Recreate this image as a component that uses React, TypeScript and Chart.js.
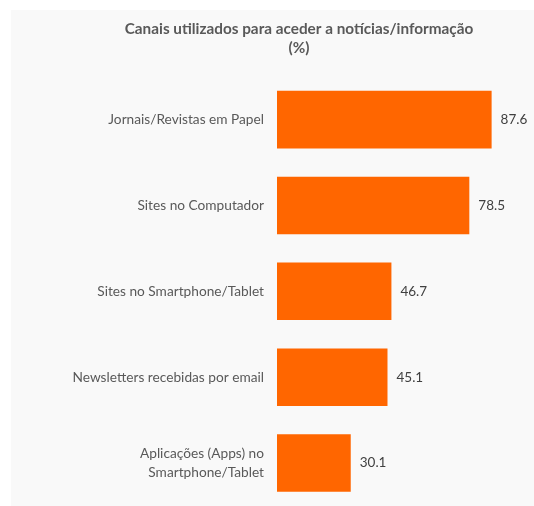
import React, { useEffect, useRef } from "react";
import { Chart, registerables } from "chart.js";

Chart.register(...registerables);

const categories: (string | string[])[] = [
  "Jornais/Revistas em Papel",
  "Sites no Computador",
  "Sites no Smartphone/Tablet",
  "Newsletters recebidas por email",
  ["Aplicações (Apps) no", "Smartphone/Tablet"],
];
const values: number[] = [87.6, 78.5, 46.7, 45.1, 30.1];
const titleLines: string[] = ["Canais utilizados para aceder a notícias/informação", "(%)"];

const FONT = "Lato, 'Open Sans', sans-serif";

const valueLabels = {
  id: "valueLabels",
  afterDatasetsDraw(chart: any) {
    const ctx = chart.ctx;
    const meta = chart.getDatasetMeta(0);
    ctx.save();
    ctx.fillStyle = "#404040";
    ctx.font = `13.5px ${FONT}`;
    ctx.textAlign = "left";
    ctx.textBaseline = "middle";
    meta.data.forEach((bar: any, i: number) => {
      ctx.fillText(values[i].toFixed(1), bar.x + 9, bar.y);
    });
    ctx.restore();
  },
};

const titleDraw = {
  id: "titleDraw",
  afterDraw(chart: any) {
    const ctx = chart.ctx;
    ctx.save();
    ctx.fillStyle = "#595959";
    ctx.font = `bold 15.3px ${FONT}`;
    ctx.textAlign = "center";
    ctx.textBaseline = "middle";
    titleLines.forEach((line, i) => {
      ctx.fillText(line, 288, 19 + i * 19);
    });
    ctx.restore();
  },
};

export default function App() {
  const ref = useRef<HTMLCanvasElement>(null);
  useEffect(() => {
    if (!ref.current) return;
    const chart = new Chart(ref.current, {
      type: "bar",
      data: {
        labels: categories,
        datasets: [
          {
            data: values,
            backgroundColor: "#FF6600",
            borderWidth: 0,
            barPercentage: 0.67,
            categoryPercentage: 1,
          },
        ],
      },
      options: {
        indexAxis: "y",
        animation: false,
        responsive: false,
        maintainAspectRatio: false,
        layout: { padding: { left: 0, right: 12, top: 66.7, bottom: 0 } },
        plugins: {
          legend: { display: false },
          tooltip: { enabled: false },
          title: { display: false },
        },
        scales: {
          x: {
            display: false,
            min: 0,
            max: 100,
          },
          y: {
            grid: { display: false, drawTicks: false },
            border: { display: false },
            ticks: {
              color: "#595959",
              font: { family: FONT, size: 13.7, lineHeight: 1.32 },
              padding: 13,
            },
            afterFit(scale: any) {
              scale.width = 266;
              scale.paddingTop = 0;
              scale.paddingBottom = 0;
            },
          },
        },
      },
      plugins: [valueLabels, titleDraw],
    });
    return () => chart.destroy();
  }, []);
  return (
    <div
      style={{
        position: "absolute",
        left: 11,
        top: 10,
        width: 523,
        height: 496,
        background: "#f9f9f9",
      }}
    >
      <canvas ref={ref} width={523} height={496} style={{ display: "block" }} />
    </div>
  );
}
